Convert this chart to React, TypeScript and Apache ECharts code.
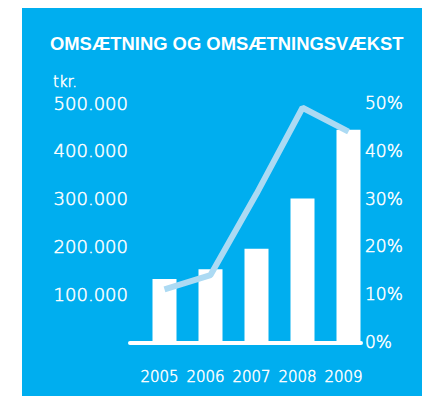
import React, { useEffect, useRef } from "react";
import * as echarts from "echarts";

// Revenue (tkr.) and revenue growth (%) by year
const years = ["2005", "2006", "2007", "2008", "2009"];
const revenue = [132000, 152000, 195000, 300000, 444000];
const growth = [11, 14, 31, 49, 44];

// Axis ranges and tick steps
const revenueMax = 500000;
const revenueStep = 100000;
const growthMax = 50;
const growthStep = 10;

const BLUE = "#00aeef";
const LINE = "#acdaf3";
const TEXT = "#ffffff";
const FONT = "DejaVu Sans";

// Light lettering with a hairline outline of the same colour
const labelText = {
  color: TEXT,
  fontFamily: FONT,
  fontWeight: 200,
  textBorderColor: TEXT,
  textBorderWidth: 0.5,
};

const formatThousands = (v: number) =>
  v === 0 ? "" : `${Math.round(v / 1000)}.000`;

export default function App() {
  const ref = useRef<HTMLDivElement>(null);

  useEffect(() => {
    if (!ref.current) return;
    const chart = echarts.init(ref.current, null, { renderer: "svg" });
    chart.setOption({
      animation: false,
      backgroundColor: BLUE,
      title: [
        {
          text: "OMSÆTNING OG OMSÆTNINGSVÆKST",
          left: 28,
          top: 26,
          padding: 0,
          textStyle: {
            color: "#ffffff",
            fontFamily: "Liberation Sans",
            fontWeight: "bold",
            fontSize: 18.4,
          },
        },
        {
          text: "tkr.",
          left: 31,
          top: 66,
          padding: 0,
          textStyle: { ...labelText, fontSize: 15 },
        },
      ],
      grid: [
        { left: 119.5, width: 230, top: 95, height: 239 },
        { left: 108, width: 231, top: 96, height: 239 },
      ],
      xAxis: [
        {
          type: "category",
          gridIndex: 0,
          data: years,
          axisLine: { show: false },
          axisTick: { show: false },
          axisLabel: {
            ...labelText,
            interval: 0,
            fontSize: 15,
            margin: 27,
            padding: [0, 10, 0, 0],
          },
        },
        {
          // baseline under the bars
          type: "value",
          gridIndex: 1,
          min: 0,
          max: 1,
          axisLine: { show: true, lineStyle: { color: "#ffffff", width: 4 } },
          axisTick: { show: false },
          axisLabel: { show: false },
          splitLine: { show: false },
        },
      ],
      yAxis: [
        {
          type: "value",
          gridIndex: 0,
          position: "left",
          min: 0,
          max: revenueMax,
          interval: revenueStep,
          axisLine: { show: false },
          axisTick: { show: false },
          splitLine: { show: false },
          axisLabel: {
            ...labelText,
            fontSize: 18,
            margin: 13.5,
            formatter: formatThousands,
          },
        },
        {
          type: "value",
          gridIndex: 0,
          position: "right",
          min: 0,
          max: growthMax,
          interval: growthStep,
          axisLine: { show: false },
          axisTick: { show: false },
          splitLine: { show: false },
          axisLabel: {
            ...labelText,
            fontSize: 17,
            margin: -6.5,
            formatter: (v: number) => `${v}%`,
          },
        },
        {
          type: "value",
          gridIndex: 1,
          show: false,
        },
      ],
      series: [
        {
          type: "bar",
          xAxisIndex: 0,
          yAxisIndex: 0,
          data: revenue,
          barWidth: 24,
          itemStyle: { color: "#ffffff" },
          z: 2,
        },
        {
          type: "line",
          xAxisIndex: 0,
          yAxisIndex: 1,
          data: growth,
          symbol: "none",
          lineStyle: { color: LINE, width: 6 },
          z: 5,
        },
      ],
    });
    return () => chart.dispose();
  }, []);

  return (
    <div
      style={{
        position: "fixed",
        left: 0,
        top: 0,
        width: 422,
        height: 396,
        background: "#ffffff",
      }}
    >
      <div
        ref={ref}
        style={{ position: "absolute", left: 22, top: 8, width: 400, height: 388 }}
      />
    </div>
  );
}
